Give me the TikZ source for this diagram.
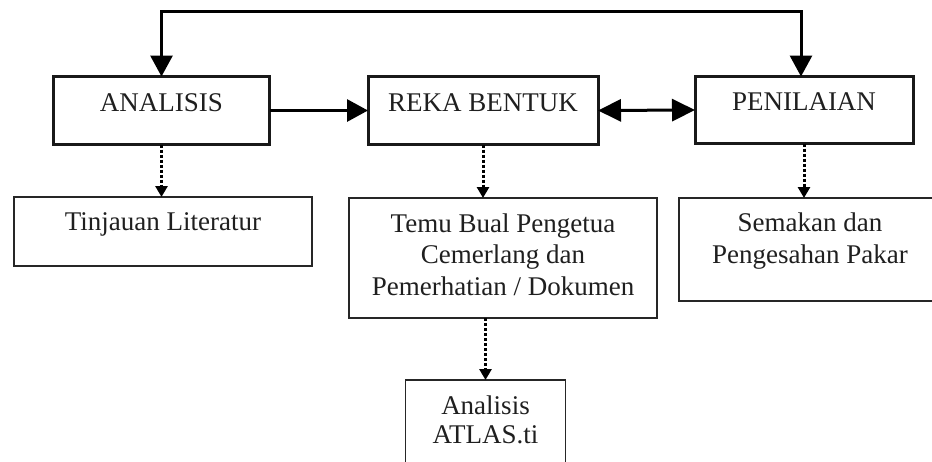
\documentclass[tikz,border=0pt]{standalone}
\usepackage{fontspec}
\setmainfont{Liberation Serif}
\usetikzlibrary{arrows.meta}
\begin{document}
\begin{tikzpicture}[x=1pt,y=-1pt,
  every node/.style={inner sep=0pt,outer sep=0pt,font=\fontsize{27}{31.5}\selectfont,text=black!88,align=center},
  mainbox/.style={draw=black!90,line width=3pt},
  subbox/.style={draw=black!85,line width=1.8pt},
  solidarrow/.style={line width=3pt,draw=black,-{Triangle[length=21pt,width=22pt]}},
  dotarrow/.style={line width=3pt,draw=black,dash pattern=on 3pt off 2pt,-{Triangle[length=11pt,width=12pt]}}]
\useasboundingbox (0,0) rectangle (932,461);
% main boxes
\node[mainbox,minimum width=216pt,minimum height=68pt,text height=34.5pt,text depth=33.5pt] (ana) at (161.5,110.5) {ANALISIS};
\node[mainbox,minimum width=230pt,minimum height=68pt,text height=34.5pt,text depth=33.5pt] (reka) at (483,110.5) {REKA BENTUK};
\node[mainbox,minimum width=218pt,minimum height=67pt,text height=33.5pt,text depth=33.5pt] (pen) at (804,110) {PENILAIAN};
% sub boxes
\node[subbox,minimum width=298pt,minimum height=69pt,text height=33pt,text depth=36pt] (tin) at (163,231.5) {Tinjauan Literatur};
\node[subbox,minimum width=308pt,minimum height=120pt,text height=97pt,text depth=23pt] (temu) at (503,258) {Temu Bual Pengetua\\Cemerlang dan\\Pemerhatian / Dokumen};
\node[subbox,minimum width=262pt,minimum height=103pt,text height=65pt,text depth=38pt] (sem) at (810,249.5) {Semakan dan\\Pengesahan Pakar};
\node[subbox,minimum width=160pt,minimum height=100pt,text height=63pt,text depth=37pt,font=\fontsize{27}{28.5}\selectfont] (atlas) at (485.5,430) {Analisis\\ATLAS.ti};
% connectors
\coordinate (top) at (0,11);
\draw[solidarrow,{Triangle[length=21pt,width=22pt]}-{Triangle[length=21pt,width=22pt]}]
  (ana.north) -- (ana.north |- top) -- ([xshift=-3pt]pen.north |- top) -- ([xshift=-3pt]pen.north);
\draw[solidarrow] (ana.east) -- (reka.west);
\draw[solidarrow,{Triangle[length=23pt,width=22pt]}-{Triangle[length=23pt,width=22pt]}] (reka.east) -- (pen.west);
\draw[dotarrow] (ana.south) -- (ana.south |- tin.north);
\draw[dotarrow] (reka.south) -- (reka.south |- temu.north);
\draw[dotarrow] (pen.south) -- (pen.south |- sem.north);
\draw[dotarrow] (atlas.north |- temu.south) -- (atlas.north);
\end{tikzpicture}
\end{document}
